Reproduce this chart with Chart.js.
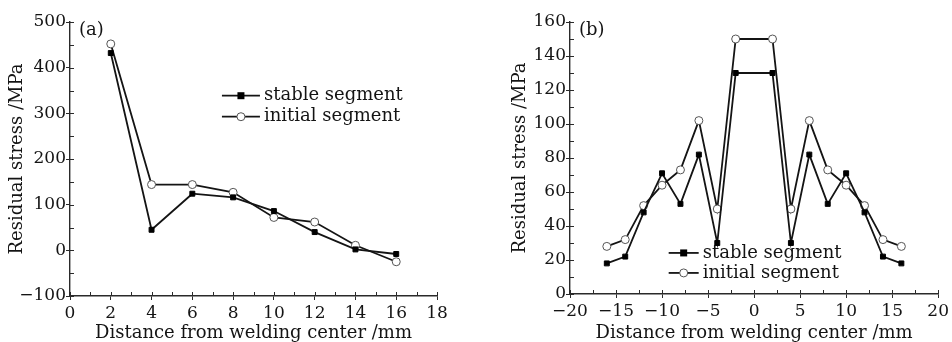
<!DOCTYPE html>
<html>
<head>
<meta charset="utf-8">
<script src="https://cdn.jsdelivr.net/npm/chart.js@4.4.1/dist/chart.umd.min.js"></script>
<style>
  html, body { margin: 0; padding: 0; background: #fff; }
  #wrap { position: relative; width: 952px; height: 342px; }
  canvas { position: absolute; top: 0; }
  #chartA { left: 0; }
  #chartB { left: 476px; }
</style>
</head>
<body>
<div id="wrap">
  <canvas id="chartA" width="476" height="342"></canvas>
  <canvas id="chartB" width="476" height="342"></canvas>
</div>
<script>
// panel (a): distance along the weld
const distanceA = [2, 4, 6, 8, 10, 12, 14, 16];
const stableA = [432, 45, 124, 116, 86, 40, 2, -8];
const initialA = [452, 144, 144, 127, 72, 62, 11, -25];

// panel (b): distance across the weld
const distanceB = [-16, -14, -12, -10, -8, -6, -4, -2, 2, 4, 6, 8, 10, 12, 14, 16];
const stableB = [18, 22, 48, 71, 53, 82, 30, 130, 130, 30, 82, 53, 71, 48, 22, 18];
const initialB = [28, 32, 52, 64, 73, 102, 50, 150, 150, 50, 102, 73, 64, 52, 32, 28];

const seriesNames = ['stable segment', 'initial segment'];
const xTitle = 'Distance from welding center /mm';
const yTitle = 'Residual stress /MPa';

const FONT = 'DejaVu Serif';
const INK = '#141414';
const AXIS = '#2a2a2a';

function toPoints(xs, ys) {
    return xs.map((x, i) => ({ x: x, y: ys[i] }));
}

function minusLabel(v) {
    return String(v).replace('-', '\u2212');
}

// minor ticks point inward, major ticks outward
const minorTicks = {
    id: 'minorTicks',
    afterDraw(chart, args, opts) {
        const c = chart.ctx;
        c.save();
        c.strokeStyle = AXIS;
        c.lineWidth = 1;
        ['x', 'y'].forEach(id => {
            const s = chart.scales[id];
            const step = opts[id];
            for (let v = s.min; v <= s.max + 1e-9; v += step) {
                const p = Math.round(s.getPixelForValue(v)) + 0.5;
                c.beginPath();
                if (id === 'x') {
                    c.moveTo(p, s.top);
                    c.lineTo(p, s.top - 4);
                } else {
                    c.moveTo(s.right, p);
                    c.lineTo(s.right + 4, p);
                }
                c.stroke();
            }
        });
        c.restore();
    }
};

const innerLegend = {
    id: 'innerLegend',
    afterDraw(chart, args, opts) {
        const c = chart.ctx;
        const a = chart.chartArea;
        const x0 = a.left + opts.fx * (a.right - a.left);
        let y = a.top + opts.fy * (a.bottom - a.top);
        c.save();
        chart.data.datasets.forEach(ds => {
            c.strokeStyle = ds.borderColor;
            c.lineWidth = ds.borderWidth;
            c.beginPath();
            c.moveTo(x0, y);
            c.lineTo(x0 + opts.len, y);
            c.stroke();
            const mx = x0 + opts.len / 2;
            c.fillStyle = ds.pointBackgroundColor;
            c.strokeStyle = ds.pointBorderColor;
            c.lineWidth = 1;
            if (ds.pointStyle === 'rect') {
                c.fillRect(mx - 3.5, y - 3.5, 7, 7);
            } else {
                c.beginPath();
                c.arc(mx, y, 4, 0, Math.PI * 2);
                c.fill();
                c.stroke();
            }
            c.fillStyle = INK;
            c.font = '18px "' + FONT + '"';
            c.textBaseline = 'middle';
            c.fillText(ds.label, x0 + opts.len + 4, y);
            y += opts.gap;
        });
        // panel letter
        c.fillText(opts.tag, a.left + 9, a.top + 8);
        c.restore();
    }
};

function datasets(xs, stable, initial) {
    return [
        {
            label: seriesNames[0],
            data: toPoints(xs, stable),
            borderColor: INK,
            borderWidth: 1.8,
            pointStyle: 'rect',
            pointRadius: 3.5,
            pointBackgroundColor: '#000',
            pointBorderColor: '#000',
            pointBorderWidth: 1,
            tension: 0
        },
        {
            label: seriesNames[1],
            data: toPoints(xs, initial),
            borderColor: INK,
            borderWidth: 1.8,
            pointStyle: 'circle',
            pointRadius: 4,
            pointBackgroundColor: '#fff',
            pointBorderColor: '#555',
            pointBorderWidth: 1,
            tension: 0
        }
    ];
}

function axis(min, max, step, title, fitKey, fitVal, pad, titlePad) {
    return {
        type: 'linear',
        min: min,
        max: max,
        ticks: {
            stepSize: step,
            color: INK,
            padding: pad,
            font: { family: FONT, size: 17 },
            callback: v => minusLabel(v)
        },
        grid: { display: true, drawOnChartArea: false, drawTicks: true, tickLength: 4, color: AXIS },
        border: { display: true, color: AXIS, width: 1.4 },
        title: {
            display: true,
            text: title,
            color: INK,
            font: { family: FONT, size: 18 },
            padding: titlePad
        },
        afterFit: s => { s[fitKey] = fitVal; }
    };
}

function drawChart(id, xs, stable, initial, cfg) {
    new Chart(document.getElementById(id), {
        type: 'line',
        data: { datasets: datasets(xs, stable, initial) },
        options: {
            responsive: false,
            animation: false,
            layout: { padding: cfg.padding },
            scales: {
                x: axis(cfg.xMin, cfg.xMax, cfg.xStep, xTitle, 'height', cfg.xH, 3, { top: 0, bottom: -2 }),
                y: axis(cfg.yMin, cfg.yMax, cfg.yStep, yTitle, 'width', cfg.yW, 0, 0)
            },
            plugins: {
                legend: { display: false },
                tooltip: { enabled: false },
                minorTicks: { x: cfg.xMinor, y: cfg.yMinor },
                innerLegend: cfg.legend
            }
        },
        plugins: [minorTicks, innerLegend]
    });
}

drawChart('chartA', distanceA, stableA, initialA, {
    xMin: 0, xMax: 18, xStep: 2, xMinor: 1,
    yMin: -100, yMax: 500, yStep: 100, yMinor: 50,
    xH: 46, yW: 63,
    padding: { top: 22, right: 39, left: 7, bottom: 0 },
    legend: { fx: 0.414, fy: 0.269, len: 38, gap: 21, tag: '(a)' }
});

drawChart('chartB', distanceB, stableB, initialB, {
    xMin: -20, xMax: 20, xStep: 5, xMinor: 2.5,
    yMin: 0, yMax: 160, yStep: 20, yMinor: 10,
    xH: 48, yW: 60,
    padding: { top: 22, right: 12, left: 34, bottom: 0 },
    legend: { fx: 0.268, fy: 0.849, len: 30, gap: 20, tag: '(b)' }
});
</script>
</body>
</html>
